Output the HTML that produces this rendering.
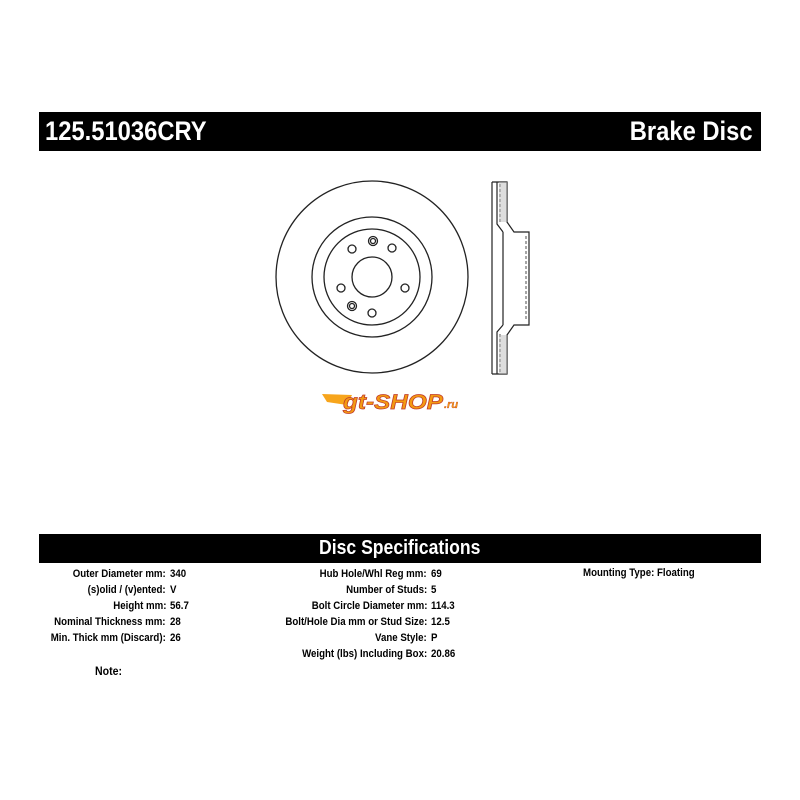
<!DOCTYPE html><html><head><style>
body{margin:0;width:800px;height:800px;background:#fff;position:relative;font-family:"Liberation Sans",sans-serif;overflow:hidden}
.bar{position:absolute;left:39px;width:722px;background:#000;color:#fff;font-weight:bold}
.l,.v{position:absolute;font-size:11px;font-weight:bold;white-space:nowrap;height:14px;line-height:14px}
.l{transform:scaleX(.88);transform-origin:right;text-align:right}
.v{transform:scaleX(.88);transform-origin:left}
</style></head><body>
<div class="bar" style="top:112px;height:39px">
<span style="position:absolute;left:6px;top:4px;font-size:27px;transform:scaleX(.88);transform-origin:left">125.51036CRY</span>
<span style="position:absolute;right:8px;top:4px;font-size:27px;transform:scaleX(.88);transform-origin:right">Brake Disc</span></div>
<svg style="position:absolute;left:0;top:0" width="800" height="420" fill="none" stroke="#222" stroke-width="1.3">
<circle cx="372" cy="277" r="96"/><circle cx="372" cy="277" r="60"/><circle cx="372" cy="277" r="48"/><circle cx="372" cy="277" r="20"/>
<g><circle cx="373" cy="241" r="4.5"/><circle cx="373" cy="241" r="2.5"/><circle cx="392" cy="248" r="4"/><circle cx="405" cy="288" r="4"/><circle cx="372" cy="313" r="4"/><circle cx="352" cy="306" r="4.5"/><circle cx="352" cy="306" r="2.5"/><circle cx="352" cy="249" r="4"/><circle cx="341" cy="288" r="4"/></g>
<path d="M492 182V374M492 182H507V222L514 232H529V325H514L507 335V374H492M497 182V224L503 232M497 374V332L503 325M503 232V325" stroke-width="1.2"/>
<path d="M500 184V224M500 372V332M526 236V320" stroke-dasharray="3 2" stroke-width="0.8"/>
<rect x="499" y="182" width="8" height="40" fill="#bbb" stroke="none" opacity=".5"/>
<rect x="499" y="335" width="8" height="39" fill="#bbb" stroke="none" opacity=".5"/>
<g stroke="none"><polygon points="322,394 352,395 347,405 327,402" fill="#f7a51c"/>
<text x="343" y="409" textLength="100" lengthAdjust="spacingAndGlyphs" font-family="Liberation Sans" font-style="italic" font-weight="bold" font-size="21" fill="#f39a12" stroke="#c0392b" stroke-width=".7">gt-SHOP</text>
<text x="444" y="408" font-family="Liberation Sans" font-style="italic" font-weight="bold" font-size="11" fill="#f39a12" stroke="#c0392b" stroke-width=".3">.ru</text></g>
</svg>
<div class="bar" style="top:534px;height:29px;text-align:center"><span style="display:inline-block;font-size:20px;margin-top:3px;transform:scaleX(.88)">Disc Specifications</span></div>

<div class="l" style="right:634px;top:567px">Outer Diameter mm:</div><div class="v" style="left:170px;top:567px">340</div>
<div class="l" style="right:634px;top:583px">(s)olid / (v)ented:</div><div class="v" style="left:170px;top:583px">V</div>
<div class="l" style="right:634px;top:599px">Height mm:</div><div class="v" style="left:170px;top:599px">56.7</div>
<div class="l" style="right:634px;top:615px">Nominal Thickness mm:</div><div class="v" style="left:170px;top:615px">28</div>
<div class="l" style="right:634px;top:631px">Min. Thick mm (Discard):</div><div class="v" style="left:170px;top:631px">26</div>
<div class="v" style="left:95px;top:664px;font-size:12px">Note:</div>

<div class="l" style="right:373px;top:567px">Hub Hole/Whl Reg mm:</div><div class="v" style="left:431px;top:567px">69</div>
<div class="l" style="right:373px;top:583px">Number of Studs:</div><div class="v" style="left:431px;top:583px">5</div>
<div class="l" style="right:373px;top:599px">Bolt Circle Diameter mm:</div><div class="v" style="left:431px;top:599px">114.3</div>
<div class="l" style="right:373px;top:615px">Bolt/Hole Dia mm or Stud Size:</div><div class="v" style="left:431px;top:615px">12.5</div>
<div class="l" style="right:373px;top:631px">Vane Style:</div><div class="v" style="left:431px;top:631px">P</div>
<div class="l" style="right:373px;top:647px">Weight (lbs) Including Box:</div><div class="v" style="left:431px;top:647px">20.86</div>

<div class="v" style="left:583px;top:566px">Mounting Type: Floating</div>
</body></html>
